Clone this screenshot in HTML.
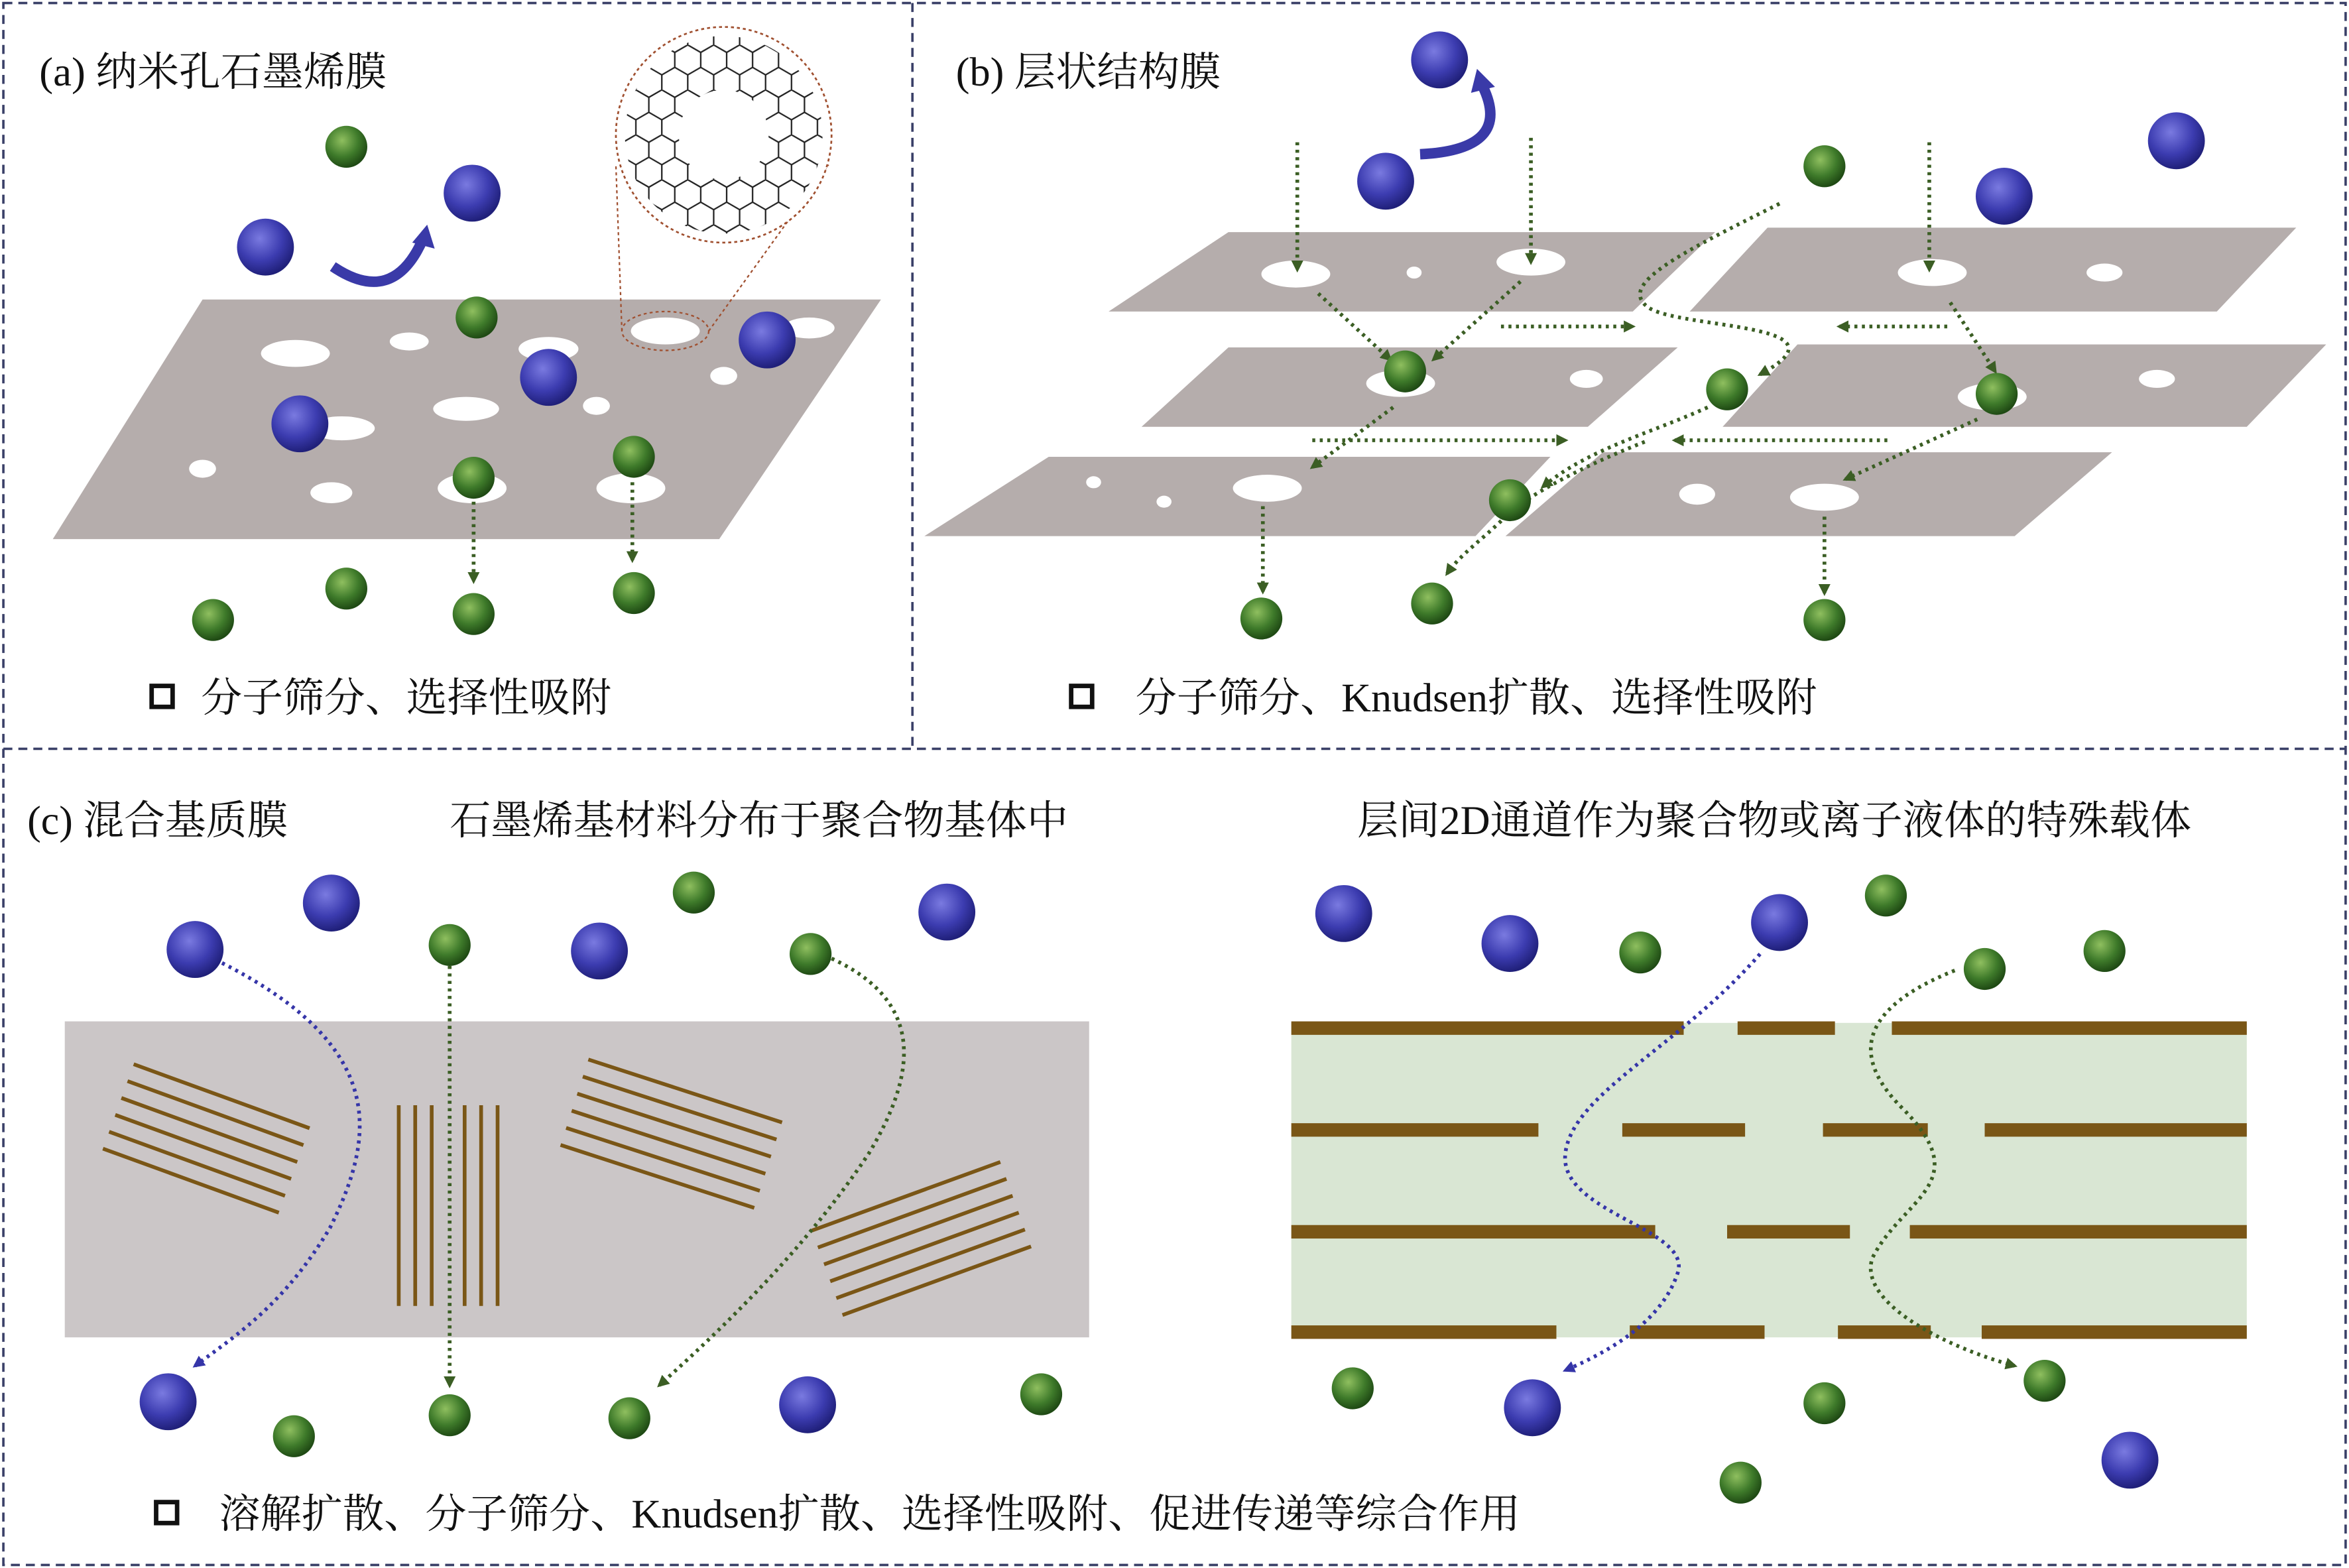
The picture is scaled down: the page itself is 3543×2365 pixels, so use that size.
<!DOCTYPE html>
<html><head><meta charset="utf-8"><style>
html,body{margin:0;padding:0;background:#fff}
svg{display:block}
text{font-family:"Liberation Serif","Noto Serif CJK SC","Noto Sans CJK SC",serif;fill:#111}
</style></head><body>
<svg width="3543" height="2365" viewBox="0 0 1568 1047" xmlns="http://www.w3.org/2000/svg">
<defs>
<radialGradient id="gb" cx="0.4" cy="0.35" r="0.65"><stop offset="0" stop-color="#7a7ae0"/><stop offset="0.6" stop-color="#3c3cb0"/><stop offset="1" stop-color="#20207a"/></radialGradient>
<radialGradient id="gg" cx="0.4" cy="0.35" r="0.65"><stop offset="0" stop-color="#8fbf5f"/><stop offset="0.6" stop-color="#3e7a2a"/><stop offset="1" stop-color="#1f4a14"/></radialGradient>
<marker id="ag" markerWidth="8" markerHeight="8" refX="6" refY="4" orient="auto" markerUnits="userSpaceOnUse"><path d="M0,0 L8,4 L0,8 z" fill="#3b5e24"/></marker>
<marker id="ab" markerWidth="8" markerHeight="8" refX="6" refY="4" orient="auto" markerUnits="userSpaceOnUse"><path d="M0,0 L8,4 L0,8 z" fill="#3535a8"/></marker>
<symbol id="B" viewBox="-20 -20 40 40" overflow="visible"><circle r="19" fill="url(#gb)"/></symbol>
<symbol id="G" viewBox="-15 -15 30 30" overflow="visible"><circle r="14" fill="url(#gg)"/></symbol>
<pattern id="hex" x="0" y="0" width="17.32" height="30" patternUnits="userSpaceOnUse">
<path d="M0,5 L8.66,0 L17.32,5 L17.32,15 L8.66,20 L0,15 Z M8.66,20 L8.66,30 M0,-15 L0,-5" fill="none" stroke="#222" stroke-width="1"/>
</pattern>
<mask id="ring"><circle cx="483" cy="90" r="66" fill="#fff"/><circle cx="483" cy="90" r="30" fill="#000"/></mask>
</defs>
<g fill="none" stroke="#3a4068" stroke-width="1.6" stroke-dasharray="6 4">
<rect x="2" y="2" width="1564" height="1043"/>
<line x1="609" y1="2" x2="609" y2="500"/>
<line x1="2" y1="500" x2="1566" y2="500"/>
</g>

<!-- Panel a -->
<text x="26" y="57" font-size="27" textLength="232" lengthAdjust="spacingAndGlyphs">(a) 纳米孔石墨烯膜</text>
<polygon points="135,200 588,200 480,360 35,360" fill="#b5adac"/>
<g fill="#fff">
<ellipse cx="197" cy="236" rx="23" ry="9"/><ellipse cx="273" cy="228" rx="13" ry="6"/>
<ellipse cx="228" cy="286" rx="22" ry="8"/><ellipse cx="311" cy="273" rx="22" ry="8"/>
<ellipse cx="366" cy="233" rx="20" ry="8"/><ellipse cx="398" cy="271" rx="9" ry="6"/>
<ellipse cx="444" cy="221" rx="23" ry="9"/><ellipse cx="540" cy="219" rx="17" ry="7"/>
<ellipse cx="483" cy="251" rx="9" ry="6"/><ellipse cx="135" cy="313" rx="9" ry="6"/>
<ellipse cx="221" cy="329" rx="14" ry="7"/><ellipse cx="315" cy="326" rx="23" ry="10"/>
<ellipse cx="421" cy="326" rx="23" ry="10"/>
</g>
<ellipse cx="444" cy="221" rx="29" ry="13" fill="none" stroke="#a05030" stroke-width="1" stroke-dasharray="2 2"/>
<line x1="415" y1="221" x2="411" y2="110" stroke="#a05030" stroke-width="1" stroke-dasharray="2 2"/>
<line x1="473" y1="221" x2="553" y2="110" stroke="#a05030" stroke-width="1" stroke-dasharray="2 2"/>
<circle cx="483" cy="90" r="72" fill="#fff" stroke="#a05030" stroke-width="1.2" stroke-dasharray="2 2"/>
<rect x="410" y="20" width="146" height="140" fill="url(#hex)" mask="url(#ring)"/>
<use href="#G" x="216" y="83" width="30" height="30"/>
<use href="#B" x="295" y="109" width="40" height="40"/>
<use href="#B" x="157" y="145" width="40" height="40"/>
<path d="M222,178 Q262,205 282,160" fill="none" stroke="#3a3aa8" stroke-width="7"/>
<path d="M275,162 L285,150 L290,166 z" fill="#3a3aa8"/>
<use href="#G" x="303" y="197" width="30" height="30"/>
<use href="#B" x="346" y="232" width="40" height="40"/>
<use href="#B" x="492" y="207" width="40" height="40"/>
<use href="#B" x="180" y="263" width="40" height="40"/>
<use href="#G" x="301" y="304" width="30" height="30"/>
<use href="#G" x="408" y="290" width="30" height="30"/>
<g stroke="#3b5e24" stroke-width="2.5" stroke-dasharray="2 3" fill="none">
<line x1="316" y1="335" x2="316" y2="388" marker-end="url(#ag)"/>
<line x1="422" y1="322" x2="422" y2="374" marker-end="url(#ag)"/>
</g>
<use href="#G" x="127" y="399" width="30" height="30"/>
<use href="#G" x="216" y="378" width="30" height="30"/>
<use href="#G" x="301" y="395" width="30" height="30"/>
<use href="#G" x="408" y="381" width="30" height="30"/>
<rect x="101" y="458" width="14" height="14" fill="none" stroke="#111" stroke-width="3"/>
<text x="134" y="475" font-size="27" textLength="274" lengthAdjust="spacingAndGlyphs">分子筛分、选择性吸附</text>

<!-- Panel b -->
<text x="638" y="57" font-size="27" textLength="177" lengthAdjust="spacingAndGlyphs">(b) 层状结构膜</text>
<g fill="#b5adac">
<polygon points="820,155 1145,155 1090,208 740,208"/>
<polygon points="1180,152 1533,152 1480,208 1128,208"/>
<polygon points="820,232 1120,232 1060,285 762,285"/>
<polygon points="1200,230 1553,230 1500,285 1150,285"/>
<polygon points="700,305 1035,305 985,358 617,358"/>
<polygon points="1070,302 1410,302 1345,358 1005,358"/>
</g>
<g fill="#fff">
<ellipse cx="865" cy="183" rx="23" ry="9"/><ellipse cx="944" cy="182" rx="5" ry="4"/><ellipse cx="1022" cy="175" rx="23" ry="9"/>
<ellipse cx="1290" cy="182" rx="23" ry="9"/><ellipse cx="1405" cy="182" rx="12" ry="6"/>
<ellipse cx="935" cy="256" rx="23" ry="9"/><ellipse cx="1059" cy="253" rx="11" ry="6"/>
<ellipse cx="1330" cy="265" rx="23" ry="9"/><ellipse cx="1440" cy="253" rx="12" ry="6"/>
<ellipse cx="730" cy="322" rx="5" ry="4"/><ellipse cx="777" cy="335" rx="5" ry="4"/><ellipse cx="846" cy="326" rx="23" ry="9"/>
<ellipse cx="1133" cy="330" rx="12" ry="7"/><ellipse cx="1218" cy="332" rx="23" ry="9"/>
</g>
<use href="#B" x="941" y="20" width="40" height="40"/>
<use href="#B" x="905" y="101" width="40" height="40"/>
<path d="M948,103 Q1010,100 990,58" fill="none" stroke="#3a3aa8" stroke-width="7"/>
<path d="M982,62 L986,46 L998,58 z" fill="#3a3aa8"/>
<use href="#G" x="1203" y="96" width="30" height="30"/>
<use href="#B" x="1318" y="111" width="40" height="40"/>
<use href="#B" x="1433" y="74" width="40" height="40"/>
<g stroke="#3b5e24" stroke-width="2.5" stroke-dasharray="2 3" fill="none">
<line x1="866" y1="95" x2="866" y2="180" marker-end="url(#ag)"/>
<line x1="1022" y1="92" x2="1022" y2="175" marker-end="url(#ag)"/>
<line x1="1288" y1="95" x2="1288" y2="180" marker-end="url(#ag)"/>
<line x1="880" y1="196" x2="928" y2="240" marker-end="url(#ag)"/>
<line x1="1015" y1="188" x2="957" y2="240" marker-end="url(#ag)"/>
<line x1="1002" y1="218" x2="1090" y2="218" marker-end="url(#ag)"/>
<line x1="1300" y1="218" x2="1228" y2="218" marker-end="url(#ag)"/>
<path d="M1188,136 C1120,170 1080,190 1100,205 C1120,220 1240,215 1175,250" marker-end="url(#ag)"/>
<line x1="1302" y1="202" x2="1332" y2="248" marker-end="url(#ag)"/>
<line x1="930" y1="272" x2="876" y2="312" marker-end="url(#ag)"/>
<line x1="876" y1="294" x2="1045" y2="294" marker-end="url(#ag)"/>
<line x1="1260" y1="294" x2="1118" y2="294" marker-end="url(#ag)"/>
<path d="M1140,272 C1100,290 1060,300 1030,325" marker-end="url(#ag)"/>
<line x1="1320" y1="280" x2="1232" y2="320" marker-end="url(#ag)"/>
<path d="M1098,295 C1060,310 1020,330 1005,345 C990,360 975,370 966,383" marker-end="url(#ag)"/>
<line x1="843" y1="338" x2="843" y2="395" marker-end="url(#ag)"/>
<line x1="1218" y1="345" x2="1218" y2="396" marker-end="url(#ag)"/>
</g>
<use href="#G" x="923" y="233" width="30" height="30"/>
<use href="#G" x="1138" y="245" width="30" height="30"/>
<use href="#G" x="1318" y="248" width="30" height="30"/>
<use href="#G" x="993" y="319" width="30" height="30"/>
<use href="#G" x="827" y="398" width="30" height="30"/>
<use href="#G" x="941" y="388" width="30" height="30"/>
<use href="#G" x="1203" y="399" width="30" height="30"/>
<rect x="715" y="458" width="14" height="14" fill="none" stroke="#111" stroke-width="3"/>
<text x="758" y="475" font-size="27" textLength="455" lengthAdjust="spacingAndGlyphs">分子筛分、Knudsen扩散、选择性吸附</text>

<!-- Panel c -->
<text x="18" y="557" font-size="27" textLength="174" lengthAdjust="spacingAndGlyphs">(c) 混合基质膜</text>
<text x="300" y="557" font-size="27" textLength="413" lengthAdjust="spacingAndGlyphs">石墨烯基材料分布于聚合物基体中</text>
<text x="906" y="557" font-size="27" textLength="557" lengthAdjust="spacingAndGlyphs">层间2D通道作为聚合物或离子液体的特殊载体</text>
<rect x="43" y="682" width="684" height="211" fill="#cbc6c7"/>
<g stroke="#7a5616" stroke-width="2.5">
<g transform="rotate(20 137 760)"><line x1="75" y1="730" x2="200" y2="730"/><line x1="75" y1="742" x2="200" y2="742"/><line x1="75" y1="754" x2="200" y2="754"/><line x1="75" y1="766" x2="200" y2="766"/><line x1="75" y1="778" x2="200" y2="778"/><line x1="75" y1="790" x2="200" y2="790"/></g>
<line x1="266" y1="738" x2="266" y2="872"/><line x1="277" y1="738" x2="277" y2="872"/><line x1="288" y1="738" x2="288" y2="872"/><line x1="310" y1="738" x2="310" y2="872"/><line x1="321" y1="738" x2="321" y2="872"/><line x1="332" y1="738" x2="332" y2="872"/>
<g transform="rotate(18 448 757)"><line x1="380" y1="727" x2="516" y2="727"/><line x1="380" y1="739" x2="516" y2="739"/><line x1="380" y1="751" x2="516" y2="751"/><line x1="380" y1="763" x2="516" y2="763"/><line x1="380" y1="775" x2="516" y2="775"/><line x1="380" y1="787" x2="516" y2="787"/></g>
<g transform="rotate(-20 615 827)"><line x1="548" y1="797" x2="682" y2="797"/><line x1="548" y1="809" x2="682" y2="809"/><line x1="548" y1="821" x2="682" y2="821"/><line x1="548" y1="833" x2="682" y2="833"/><line x1="548" y1="845" x2="682" y2="845"/><line x1="548" y1="857" x2="682" y2="857"/></g>
</g>
<rect x="862" y="683" width="638" height="210" fill="#d9e6d3"/>
<g fill="#7a5616">
<rect x="862" y="682" width="262" height="9"/><rect x="1160" y="682" width="65" height="9"/><rect x="1263" y="682" width="237" height="9"/>
<rect x="862" y="750" width="165" height="9"/><rect x="1083" y="750" width="82" height="9"/><rect x="1217" y="750" width="70" height="9"/><rect x="1325" y="750" width="175" height="9"/>
<rect x="862" y="818" width="243" height="9"/><rect x="1153" y="818" width="82" height="9"/><rect x="1275" y="818" width="225" height="9"/>
<rect x="862" y="885" width="177" height="9"/><rect x="1088" y="885" width="90" height="9"/><rect x="1227" y="885" width="62" height="9"/><rect x="1323" y="885" width="177" height="9"/>
</g>
<g stroke-width="2.5" stroke-dasharray="2 3" fill="none">
<path d="M148,643 C260,700 250,760 220,820 C190,870 160,890 130,912" stroke="#3535a8" marker-end="url(#ab)"/>
<line x1="300" y1="645" x2="300" y2="925" stroke="#3b5e24" marker-end="url(#ag)"/>
<path d="M555,640 C620,670 610,720 580,770 C540,830 490,880 440,925" stroke="#3b5e24" marker-end="url(#ag)"/>
<path d="M1175,637 C1120,700 1050,730 1045,770 C1040,810 1130,820 1120,850 C1110,880 1080,900 1045,915" stroke="#3535a8" marker-end="url(#ab)"/>
<path d="M1305,648 C1250,670 1230,700 1270,740 C1320,790 1270,800 1250,840 C1240,870 1300,900 1345,912" stroke="#3b5e24" marker-end="url(#ag)"/>
</g>
<use href="#B" x="110" y="614" width="40" height="40"/>
<use href="#B" x="201" y="583" width="40" height="40"/>
<use href="#G" x="285" y="616" width="30" height="30"/>
<use href="#B" x="380" y="615" width="40" height="40"/>
<use href="#G" x="448" y="581" width="30" height="30"/>
<use href="#G" x="526" y="622" width="30" height="30"/>
<use href="#B" x="612" y="589" width="40" height="40"/>
<use href="#B" x="92" y="916" width="40" height="40"/>
<use href="#G" x="181" y="944" width="30" height="30"/>
<use href="#G" x="285" y="930" width="30" height="30"/>
<use href="#G" x="405" y="932" width="30" height="30"/>
<use href="#B" x="519" y="918" width="40" height="40"/>
<use href="#G" x="680" y="916" width="30" height="30"/>
<use href="#B" x="877" y="590" width="40" height="40"/>
<use href="#B" x="988" y="610" width="40" height="40"/>
<use href="#G" x="1080" y="621" width="30" height="30"/>
<use href="#B" x="1168" y="596" width="40" height="40"/>
<use href="#G" x="1244" y="583" width="30" height="30"/>
<use href="#G" x="1310" y="632" width="30" height="30"/>
<use href="#G" x="1390" y="620" width="30" height="30"/>
<use href="#G" x="888" y="912" width="30" height="30"/>
<use href="#B" x="1003" y="920" width="40" height="40"/>
<use href="#G" x="1203" y="922" width="30" height="30"/>
<use href="#G" x="1350" y="907" width="30" height="30"/>
<use href="#G" x="1147" y="975" width="30" height="30"/>
<use href="#B" x="1402" y="955" width="40" height="40"/>
<rect x="104" y="1003" width="14" height="14" fill="none" stroke="#111" stroke-width="3"/>
<text x="146" y="1020" font-size="27" textLength="869" lengthAdjust="spacingAndGlyphs">溶解扩散、分子筛分、Knudsen扩散、选择性吸附、促进传递等综合作用</text>
</svg>
</body></html>
